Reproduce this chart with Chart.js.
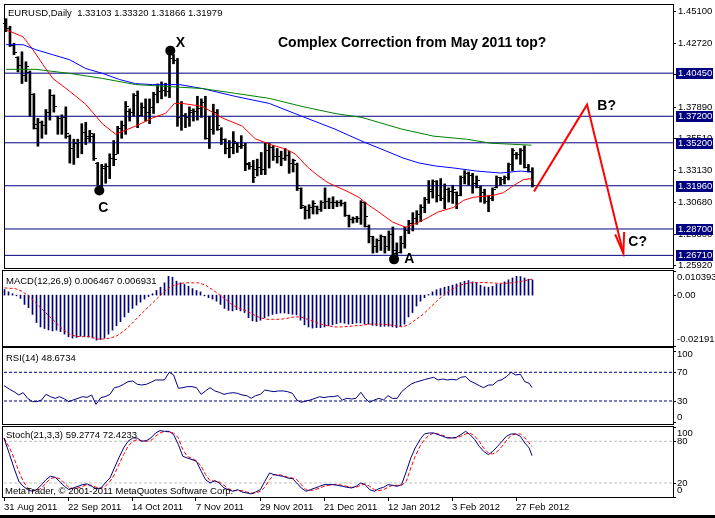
<!DOCTYPE html>
<html>
<head>
<meta charset="utf-8">
<title>EURUSD Daily</title>
<script src="https://cdn.jsdelivr.net/npm/chart.js@4.4.1/dist/chart.umd.min.js"></script>
<style>
  html, body { margin: 0; padding: 0; background: #fff; }
  #marco { position: relative; width: 715px; height: 518px; overflow: hidden; background: #fff; }
  #marco canvas { position: absolute; left: 0; top: 0; }
  #pie { position: absolute; left: 0; bottom: 0; width: 715px; height: 3px; background: #000; }
</style>
</head>
<body>
<div id="marco">
  <canvas id="precio" width="715" height="518"></canvas>
  <canvas id="macd" width="715" height="518"></canvas>
  <canvas id="rsi" width="715" height="518"></canvas>
  <canvas id="estoc" width="715" height="518"></canvas>
  <div id="pie"></div>
</div>
<script>
// ---------- datos ----------
const fechas = ['31 Aug 2011', '22 Sep 2011', '14 Oct 2011', '7 Nov 2011', '29 Nov 2011',
                '21 Dec 2011', '12 Jan 2012', '3 Feb 2012', '27 Feb 2012'];
const posFechas = [0, 16, 32, 48, 64, 80, 96, 112, 128];

const apertura = [
  1.4424, 1.4382, 1.4261, 1.4166, 1.4106, 1.4029, 1.4056, 1.3891, 1.3634, 1.3674,
  1.3654, 1.3751, 1.3881, 1.3721, 1.3704, 1.3714, 1.3574, 1.3477, 1.3517, 1.3527,
  1.3604, 1.3574, 1.3574, 1.3367, 1.3205, 1.3330, 1.3347, 1.3407, 1.3437, 1.3634,
  1.3654, 1.3761, 1.3751, 1.3881, 1.3731, 1.3791, 1.3751, 1.3791, 1.3891, 1.3909,
  1.3919, 1.3909, 1.4156, 1.4146, 1.3711, 1.3731, 1.3711, 1.3751, 1.3761, 1.3781,
  1.3831, 1.3557, 1.3624, 1.3751, 1.3624, 1.3547, 1.3477, 1.3487, 1.3517, 1.3497,
  1.3507, 1.3362, 1.3347, 1.3320, 1.3340, 1.3320, 1.3467, 1.3487, 1.3417, 1.3417,
  1.3407, 1.3427, 1.3367, 1.3357, 1.3180, 1.3033, 1.3013, 1.3033, 1.3043, 1.3023,
  1.3073, 1.3083, 1.3073, 1.3073, 1.3073, 1.3068, 1.2975, 1.2945, 1.2955, 1.2955,
  1.3073, 1.2895, 1.2815, 1.2745, 1.2785, 1.2815, 1.2745, 1.2835, 1.2688, 1.2698,
  1.2765, 1.2865, 1.2915, 1.2953, 1.2983, 1.3033, 1.3093, 1.3160, 1.3230, 1.3123,
  1.3103, 1.3170, 1.3160, 1.3150, 1.3130, 1.3260, 1.3290, 1.3280, 1.3220, 1.3190,
  1.3150, 1.3083, 1.3103, 1.3190, 1.3260, 1.3250, 1.3260, 1.3357, 1.3437, 1.3432,
  1.3467, 1.3340, 1.3310];
const maximo = [
  1.4456, 1.4399, 1.4270, 1.4169, 1.4206, 1.4131, 1.4061, 1.3891, 1.3704, 1.3684,
  1.3771, 1.3921, 1.3881, 1.3721, 1.3731, 1.3791, 1.3579, 1.3547, 1.3547, 1.3664,
  1.3674, 1.3614, 1.3589, 1.3372, 1.3357, 1.3362, 1.3437, 1.3537, 1.3644, 1.3684,
  1.3831, 1.3776, 1.3891, 1.3911, 1.3821, 1.3851, 1.3851, 1.3901, 1.3964, 1.3979,
  1.3969, 1.4247, 1.4186, 1.4156, 1.3831, 1.3741, 1.3791, 1.3776, 1.3871, 1.3851,
  1.3871, 1.3721, 1.3811, 1.3771, 1.3634, 1.3550, 1.3537, 1.3604, 1.3522, 1.3574,
  1.3517, 1.3372, 1.3387, 1.3397, 1.3447, 1.3517, 1.3517, 1.3497, 1.3477, 1.3457,
  1.3477, 1.3457, 1.3397, 1.3367, 1.3180, 1.3043, 1.3053, 1.3083, 1.3043, 1.3083,
  1.3180, 1.3103, 1.3113, 1.3083, 1.3088, 1.3073, 1.2975, 1.2960, 1.2965, 1.3083,
  1.3073, 1.2900, 1.2815, 1.2795, 1.2825, 1.2815, 1.2855, 1.2885, 1.2765, 1.2815,
  1.2885, 1.2935, 1.2993, 1.3008, 1.3053, 1.3108, 1.3235, 1.3240, 1.3235, 1.3250,
  1.3210, 1.3180, 1.3200, 1.3150, 1.3270, 1.3310, 1.3300, 1.3290, 1.3270, 1.3195,
  1.3170, 1.3120, 1.3180, 1.3270, 1.3260, 1.3270, 1.3367, 1.3477, 1.3447, 1.3477,
  1.3497, 1.3357, 1.3332];
const minimo = [
  1.4359, 1.4246, 1.4184, 1.4055, 1.3967, 1.3982, 1.3721, 1.3624, 1.3494, 1.3554,
  1.3584, 1.3691, 1.3751, 1.3584, 1.3584, 1.3554, 1.3367, 1.3357, 1.3407, 1.3437,
  1.3507, 1.3527, 1.3387, 1.3200, 1.3150, 1.3215, 1.3250, 1.3347, 1.3437, 1.3554,
  1.3584, 1.3684, 1.3721, 1.3634, 1.3721, 1.3684, 1.3664, 1.3741, 1.3821, 1.3851,
  1.3871, 1.3861, 1.4116, 1.3644, 1.3614, 1.3634, 1.3644, 1.3684, 1.3691, 1.3711,
  1.3547, 1.3477, 1.3584, 1.3614, 1.3507, 1.3437, 1.3407, 1.3437, 1.3447, 1.3477,
  1.3310, 1.3320, 1.3220, 1.3270, 1.3280, 1.3280, 1.3330, 1.3387, 1.3367, 1.3347,
  1.3387, 1.3290, 1.3300, 1.3160, 1.3023, 1.2945, 1.2950, 1.2983, 1.2983, 1.3003,
  1.3023, 1.3023, 1.3023, 1.3038, 1.3043, 1.2965, 1.2885, 1.2915, 1.2920, 1.2905,
  1.2885, 1.2765, 1.2688, 1.2693, 1.2708, 1.2688, 1.2708, 1.2624, 1.2658, 1.2688,
  1.2725, 1.2835, 1.2855, 1.2905, 1.2925, 1.2993, 1.3063, 1.3103, 1.3073, 1.3083,
  1.3023, 1.3073, 1.3063, 1.3023, 1.3120, 1.3210, 1.3200, 1.3140, 1.3180, 1.3073,
  1.3063, 1.3000, 1.3083, 1.3180, 1.3200, 1.3210, 1.3240, 1.3310, 1.3397, 1.3357,
  1.3330, 1.3300, 1.3187];
const cierre = [
  1.4382, 1.4261, 1.4206, 1.4106, 1.4029, 1.4096, 1.3891, 1.3664, 1.3674, 1.3654,
  1.3751, 1.3881, 1.3801, 1.3704, 1.3714, 1.3594, 1.3477, 1.3517, 1.3527, 1.3604,
  1.3557, 1.3594, 1.3407, 1.3205, 1.3347, 1.3347, 1.3407, 1.3397, 1.3634, 1.3654,
  1.3801, 1.3751, 1.3881, 1.3731, 1.3791, 1.3751, 1.3791, 1.3891, 1.3909, 1.3919,
  1.3909, 1.4196, 1.4146, 1.3711, 1.3731, 1.3711, 1.3771, 1.3761, 1.3781, 1.3831,
  1.3557, 1.3624, 1.3751, 1.3654, 1.3547, 1.3477, 1.3487, 1.3537, 1.3497, 1.3507,
  1.3367, 1.3347, 1.3260, 1.3340, 1.3320, 1.3467, 1.3487, 1.3417, 1.3417, 1.3407,
  1.3427, 1.3367, 1.3387, 1.3200, 1.3053, 1.3013, 1.3033, 1.3063, 1.3023, 1.3073,
  1.3083, 1.3073, 1.3073, 1.3073, 1.3068, 1.2975, 1.2945, 1.2955, 1.2955, 1.3073,
  1.2965, 1.2815, 1.2745, 1.2785, 1.2815, 1.2745, 1.2835, 1.2708, 1.2698, 1.2765,
  1.2865, 1.2915, 1.2953, 1.2983, 1.3033, 1.3093, 1.3170, 1.3230, 1.3123, 1.3103,
  1.3170, 1.3160, 1.3170, 1.3130, 1.3260, 1.3290, 1.3280, 1.3220, 1.3240, 1.3150,
  1.3083, 1.3103, 1.3170, 1.3260, 1.3250, 1.3260, 1.3357, 1.3467, 1.3432, 1.3467,
  1.3340, 1.3310, 1.3198];

// medias moviles leidas a intervalos
const mediaRojaX = [0, 4.25, 6.75, 9.25, 11.75, 16, 20, 24.25, 27.5, 32.5, 36.75, 40, 42.25, 44.25, 49.25,
  54.25, 59.25, 62.5, 66.5, 70, 72.5, 75.75, 78.25, 80.75, 85.25, 88.5, 91, 93.5, 97, 100.25,
  103.5, 106, 108.25, 112.25, 114.75, 117.25, 122.25, 124.75, 127.25, 129.75, 131.5, 132];
const mediaRojaY = [1.4372, 1.4320, 1.4222, 1.4110, 1.4005, 1.3908, 1.3810, 1.3661, 1.3585, 1.3646, 1.3707,
  1.3742, 1.3817, 1.3817, 1.3794, 1.3707, 1.3646, 1.3550, 1.3505, 1.3474, 1.3436, 1.3333, 1.3272,
  1.3219, 1.3158, 1.3108, 1.3048, 1.2997, 1.2921, 1.2883, 1.2921, 1.2959, 1.2997, 1.3033, 1.3086,
  1.3109, 1.3124, 1.3144, 1.3197, 1.3242, 1.3250, 1.3220];
const mediaAzulX = [0, 4.25, 7.5, 11.75, 16, 20, 24.25, 28.5, 32.5, 36.75, 43.5, 49.25, 57.5, 66, 74.25,
  82.5, 89.25, 95.25, 99.5, 103.5, 107.75, 112.25, 118, 124, 129, 131.75];
const mediaAzulY = [1.4260, 1.4260, 1.4222, 1.4184, 1.4146, 1.4080, 1.4043, 1.3997, 1.3966, 1.3959, 1.3959,
  1.3929, 1.3870, 1.3817, 1.3719, 1.3623, 1.3532, 1.3459, 1.3406, 1.3368, 1.3345, 1.3330, 1.3307,
  1.3292, 1.3307, 1.3299];
const mediaVerdeX = [0, 7.5, 16, 24.25, 32.5, 41, 49.25, 57.5, 66, 74.25, 82.5, 89.25, 99.25, 107.25,
  115.5, 121.5, 131.75];
const mediaVerdeY = [1.4074, 1.4074, 1.4043, 1.4005, 1.3959, 1.3944, 1.3929, 1.3893, 1.3855, 1.3794, 1.3741,
  1.3711, 1.3623, 1.3570, 1.3547, 1.3517, 1.3502];

const nivelesPrecio = [1.4045, 1.3720, 1.3520, 1.3196, 1.2870, 1.2671];
const ticksPrecio = [1.4510, 1.4272, 1.4034, 1.3789, 1.3551, 1.3313, 1.3068, 1.2830, 1.2592];

// marcas de la onda
const puntosX = [41.2, 23.4, 97.3];
const puntosY = [1.4215, 1.3160, 1.2641];
const letras = ['X', 'C', 'A', 'B?', 'C?'];
const letrasX = [43.75, 24.4, 101.1, 150.6, 158.4];
const letrasY = [1.4271, 1.3029, 1.2639, 1.3800, 1.2774];
const zigzagX = [132.4, 145.7, 154.8];
const zigzagY = [1.3152, 1.3808, 1.2686];
const flechaX = [152.75, 154.8, 155.0];
const flechaY = [1.2830, 1.2686, 1.2847];

// MACD(12,26,9)
const macdHist = [
  0.0024, 0.0014, 0.0006, -0.0003, -0.0014, -0.0040, -0.0054, -0.0083, -0.0118, -0.0137,
  -0.0144, -0.0150, -0.0154, -0.0151, -0.0157, -0.0168, -0.0179, -0.0185, -0.0182, -0.0177,
  -0.0179, -0.0181, -0.0185, -0.0194, -0.0191, -0.0185, -0.0168, -0.0151, -0.0132, -0.0114,
  -0.0094, -0.0075, -0.0057, -0.0043, -0.0030, -0.0017, -0.0006, 0.0006, 0.0020, 0.0034,
  0.0053, 0.0081, 0.0077, 0.0060, 0.0053, 0.0046, 0.0038, 0.0028, 0.0020, 0.0014,
  -0.0003, -0.0011, -0.0017, -0.0026, -0.0040, -0.0057, -0.0066, -0.0068, -0.0063, -0.0068,
  -0.0075, -0.0097, -0.0111, -0.0114, -0.0108, -0.0097, -0.0090, -0.0083, -0.0080, -0.0077,
  -0.0077, -0.0080, -0.0083, -0.0085, -0.0108, -0.0128, -0.0137, -0.0142, -0.0140, -0.0140,
  -0.0137, -0.0132, -0.0128, -0.0123, -0.0118, -0.0121, -0.0125, -0.0123, -0.0120, -0.0120,
  -0.0125, -0.0125, -0.0130, -0.0132, -0.0135, -0.0134, -0.0134, -0.0137, -0.0140, -0.0135,
  -0.0125, -0.0094, -0.0075, -0.0047, -0.0026, -0.0011, 0.0003, 0.0014, 0.0023, 0.0028,
  0.0034, 0.0038, 0.0043, 0.0048, 0.0054, 0.0060, 0.0063, 0.0057, 0.0053, 0.0043,
  0.0036, 0.0034, 0.0038, 0.0046, 0.0048, 0.0057, 0.0066, 0.0074, 0.0081, 0.0080,
  0.0074, 0.0068, 0.0065];
const senalX = [0, 2.65, 4.35, 6.05, 7.75, 9.45, 11.15, 12.85, 14.55, 16.25, 17.95, 19.65, 21.35, 23.05,
  24.75, 26.45, 28.15, 29.85, 31.55, 33.25, 34.95, 36.65, 38.35, 40.05, 41.75, 43.45, 45.15, 46.85,
  48.55, 50.25, 51.95, 53.65, 55.35, 57.05, 58.75, 60.45, 62.15, 63.85, 65.55, 67.25, 68.95, 70.65,
  72.35, 74.05, 75.75, 77.45, 79.15, 80.85, 82.55, 84.25, 85.95, 87.65, 89.35, 91.05, 92.75, 94.45,
  96.15, 97.85, 99.55, 101.25, 102.95, 104.65, 106.35, 108.05, 109.75, 111.45, 113.15, 114.85,
  116.55, 118.25, 119.95, 121.65, 123.35, 125.05, 126.75, 128.45, 130.15, 132];
const senalY = [0.0031, 0.0028, 0.0017, -0.0004, -0.0033, -0.0061, -0.0090, -0.0118, -0.0147, -0.0168,
  -0.0178, -0.0179, -0.0178, -0.0189, -0.0189, -0.0185, -0.0175, -0.0154, -0.0128, -0.0097, -0.0068,
  -0.0040, -0.0011, 0.0017, 0.0038, 0.0048, 0.0053, 0.0053, 0.0053, 0.0043, 0.0024, 0.0003, -0.0019,
  -0.0043, -0.0057, -0.0068, -0.0083, -0.0097, -0.0104, -0.0104, -0.0104, -0.0100, -0.0094, -0.0094,
  -0.0104, -0.0114, -0.0125, -0.0132, -0.0137, -0.0137, -0.0135, -0.0132, -0.0130, -0.0125, -0.0125,
  -0.0125, -0.0128, -0.0132, -0.0137, -0.0125, -0.0104, -0.0083, -0.0054, -0.0026, 0.0000, 0.0020,
  0.0038, 0.0048, 0.0053, 0.0054, 0.0054, 0.0053, 0.0051, 0.0051, 0.0053, 0.0057, 0.0063, 0.0069];
const macdEje = [0.010393, 0, -0.02191];
const macdEtiquetas = ['0.010393', '0.00', '-0.02191'];

const posOsc = [
  0, 1.4, 2.5, 3.7, 4.8, 5.9, 7.1, 8.2, 9.4, 10.5,
  11.6, 12.8, 13.9, 15.1, 16.2, 17.3, 18.5, 19.6, 20.8, 21.9,
  23.0, 24.2, 25.3, 26.5, 27.6, 28.7, 29.9, 31.0, 32.2, 33.3,
  34.4, 35.6, 36.7, 37.9, 39.0, 40.1, 41.3, 42.4, 43.6, 44.7,
  45.8, 47.0, 48.1, 49.3, 50.4, 51.5, 52.7, 53.8, 55.0, 56.1,
  57.2, 58.4, 59.5, 60.7, 61.8, 62.9, 64.1, 65.2, 66.4, 67.5,
  68.6, 69.8, 70.9, 72.1, 73.2, 74.3, 75.5, 76.6, 77.8, 78.9,
  80.0, 81.2, 82.3, 83.5, 84.6, 85.7, 86.9, 88.0, 89.2, 90.3,
  91.4, 92.6, 93.7, 94.9, 96.0, 97.1, 98.3, 99.4, 100.6, 101.7,
  102.8, 104.0, 105.1, 106.3, 107.4, 108.5, 109.7, 110.8, 112.0, 113.1,
  114.2, 115.4, 116.5, 117.7, 118.8, 119.9, 121.1, 122.2, 123.4, 124.5,
  125.6, 126.8, 127.9, 129.1, 130.2, 131.3, 132];
const rsiValores = [
  51.4, 46.3, 43.0, 38.4, 41.6, 33.7, 29.1, 29.1, 31.4, 39.3,
  36.0, 33.7, 36.0, 32.8, 29.1, 31.4, 33.7, 36.0, 35.1, 38.4,
  25.3, 34.7, 36.0, 39.3, 48.6, 50.0, 53.3, 57.0, 57.9, 53.3,
  52.3, 53.3, 56.0, 59.3, 59.3, 59.3, 70.0, 66.3, 47.7, 48.6,
  50.0, 50.0, 48.6, 39.3, 44.0, 48.6, 44.0, 42.1, 39.3, 40.7,
  41.6, 40.7, 38.4, 37.4, 33.7, 37.4, 39.3, 45.3, 44.0, 43.0,
  44.0, 44.0, 43.0, 40.7, 31.4, 28.1, 30.0, 31.4, 33.7, 36.0,
  34.7, 36.0, 36.0, 37.4, 31.4, 33.7, 32.8, 33.7, 42.1, 33.7,
  28.1, 31.4, 33.7, 31.4, 37.4, 33.7, 33.7, 43.0, 48.6, 53.3,
  56.0, 57.9, 59.8, 61.6, 63.0, 59.3, 60.7, 59.3, 60.2, 59.3,
  63.0, 64.0, 57.9, 54.7, 51.4, 48.6, 52.3, 52.3, 57.9, 59.8,
  64.0, 70.0, 66.3, 67.2, 57.0, 54.7, 48.7];
const rsiNiveles = [70, 30];
const rsiEje = [100, 70, 30, 0];

const stochPrincipal = [
  84.8, 60.8, 41.6, 22.4, 15.2, 10.4, 8.0, 10.4, 17.6, 24.8,
  29.6, 28.2, 22.4, 15.2, 10.4, 12.8, 15.2, 17.6, 18.6, 15.2,
  11.8, 12.8, 20.0, 27.2, 41.6, 56.0, 70.4, 80.0, 84.8, 84.8,
  80.0, 81.0, 84.8, 92.0, 95.4, 94.4, 94.4, 89.6, 75.2, 58.4,
  56.0, 53.6, 51.2, 36.8, 24.8, 20.0, 23.4, 20.0, 12.8, 10.4,
  8.0, 10.4, 7.0, 5.6, 4.2, 7.0, 10.4, 22.4, 34.4, 32.0,
  30.6, 29.6, 27.2, 26.2, 20.0, 12.8, 8.0, 10.4, 12.8, 15.2,
  17.6, 17.6, 17.6, 16.6, 15.2, 13.8, 12.8, 15.2, 20.0, 17.6,
  10.4, 8.0, 11.8, 13.8, 17.6, 16.6, 15.2, 17.6, 36.8, 56.0,
  70.4, 82.4, 90.6, 92.0, 92.0, 89.6, 87.2, 84.8, 84.8, 85.8,
  89.6, 94.4, 89.6, 82.4, 72.8, 65.6, 60.8, 65.6, 72.8, 80.0,
  87.2, 90.6, 90.6, 87.2, 77.6, 70.4, 59.3];
const stochSenal = [
  84.8, 70.4, 56.0, 36.8, 22.4, 12.8, 9.0, 9.0, 12.8, 20.0,
  26.2, 28.2, 26.2, 20.0, 13.8, 11.8, 12.8, 15.2, 17.6, 16.6,
  13.8, 11.8, 15.2, 22.4, 32.0, 46.4, 60.8, 72.8, 80.0, 82.4,
  81.0, 80.0, 81.0, 87.2, 92.0, 94.4, 93.4, 92.0, 84.8, 68.0,
  58.4, 55.0, 52.2, 44.0, 32.0, 23.4, 22.4, 21.4, 16.6, 11.8,
  9.0, 9.0, 9.0, 7.0, 5.6, 5.6, 8.0, 13.8, 24.8, 32.0,
  32.0, 30.6, 28.2, 27.2, 24.8, 17.6, 10.4, 9.0, 10.4, 12.8,
  15.2, 16.6, 17.6, 17.6, 16.6, 15.2, 13.8, 13.8, 16.6, 18.6,
  15.2, 10.4, 9.0, 10.4, 13.8, 16.6, 16.6, 16.6, 22.4, 41.6,
  58.4, 72.8, 82.4, 88.6, 92.0, 90.6, 88.6, 85.8, 84.8, 84.8,
  87.2, 90.6, 92.0, 87.2, 80.0, 70.4, 63.2, 61.8, 65.6, 72.8,
  81.0, 88.6, 90.6, 90.6, 84.8, 77.6, 72.4];
const stochNiveles = [80, 20];
const stochEje = [100, 80, 20, 0];

// ---------- configuracion ----------
const X_MIN = -0.25, X_MAX = 167.25;
const FUENTE = "9.5px 'Liberation Sans', Arial, sans-serif";
const FUENTE_GRANDE = "bold 14px 'Liberation Sans', Arial, sans-serif";

Chart.defaults.font.family = "'Liberation Sans', Arial, sans-serif";
Chart.defaults.font.size = 9.5;
Chart.defaults.color = '#000';
Chart.defaults.animation = false;
Chart.defaults.responsive = false;
Chart.defaults.maintainAspectRatio = false;
Chart.defaults.devicePixelRatio = 1;
Chart.defaults.plugins.legend.display = false;
Chart.defaults.plugins.tooltip.enabled = false;
Chart.defaults.elements.point.radius = 0;
Chart.defaults.elements.line.tension = 0;

function pares(xs, ys) {
  const n = Math.min(xs.length, ys.length);
  const out = [];
  for (let k = 0; k < n; k++) out.push({x: xs[k], y: ys[k]});
  return out;
}
function lineaNivel(v, color, dash) {
  return {type: 'line', data: [{x: X_MIN - 1, y: v}, {x: X_MAX + 1, y: v}], borderColor: color,
          borderWidth: 1, borderDash: dash || [], order: 5};
}
// desplazamiento: medio pixel para que las barras de 1px queden nitidas
function ejeX(visible, desplazamiento) {
  const d = desplazamiento || 0;
  const eje = {
    type: 'linear', min: X_MIN - d, max: X_MAX - d, offset: false, display: visible,
    grid: {display: visible, drawOnChartArea: false, drawTicks: true, tickLength: 4, color: '#000'},
    border: {display: false},
    ticks: {autoSkip: false, maxRotation: 0, minRotation: 0, align: 'start', padding: 1,
            color: '#000', callback: (v, i) => fechas[i]},
    afterBuildTicks: s => { s.ticks = posFechas.map(v => ({value: v})); }
  };
  if (visible) eje.afterFit = s => { s.height = 21; s.paddingLeft = 0; s.paddingRight = 0; };
  return eje;
}

// marco negro de cada panel
Chart.register({
  id: 'marcoPanel',
  afterDraw(chart) {
    const {ctx, chartArea: a} = chart;
    ctx.save();
    ctx.strokeStyle = '#000';
    ctx.lineWidth = 1;
    ctx.strokeRect(a.left - 0.5, a.top - 0.5, a.width + 1, a.height + 1);
    ctx.restore();
  }
});

// etiquetas de la escala derecha en los subpaneles (MT4 las recorta dentro del panel)
Chart.register({
  id: 'ejeDerecho',
  afterDraw(chart, args, opts) {
    if (!opts || !opts.valores) return;
    const {ctx, chartArea: a} = chart;
    const y = chart.scales.y;
    ctx.save();
    ctx.font = FUENTE;
    ctx.fillStyle = '#000';
    ctx.textBaseline = 'middle';
    opts.valores.forEach((v, k) => {
      const py = y.getPixelForValue(v);
      ctx.fillRect(a.right, Math.round(py), 3, 1);
      const ty = Math.min(Math.max(py, a.top + 6.5), a.bottom - 6.5);
      ctx.fillText(opts.textos[k], a.right + 4, ty);
    });
    ctx.restore();
  }
});

// rotulo del indicador arriba a la izquierda
Chart.register({
  id: 'rotulo',
  afterDraw(chart, args, opts) {
    if (!opts || !opts.texto) return;
    const {ctx, chartArea: a} = chart;
    ctx.save();
    ctx.font = FUENTE;
    ctx.fillStyle = '#000';
    ctx.textBaseline = 'middle';
    ctx.fillText(opts.texto, a.left + 3, a.top + opts.dy);
    if (opts.pie) ctx.fillText(opts.pie, a.left + 2, a.bottom - 6);
    ctx.restore();
  }
});

// ---------- panel de precio ----------
const principal = {
  id: 'principal',
  afterDatasetsDraw(chart) {
    const {ctx} = chart;
    const xs = chart.scales.x, ys = chart.scales.y;
    ctx.save();
    ctx.fillStyle = '#000';
    for (let i = 0; i < apertura.length; i++) {
      const c = Math.round(xs.getPixelForValue(i));
      ctx.fillRect(c - 3, Math.round(ys.getPixelForValue(apertura[i])), 2, 1);
      ctx.fillRect(c + 1, Math.round(ys.getPixelForValue(cierre[i])), 2, 1);
    }
    ctx.restore();
  },
  afterDraw(chart) {
    const {ctx, chartArea: a} = chart;
    const xs = chart.scales.x, ys = chart.scales.y;
    ctx.save();
    ctx.font = FUENTE;
    ctx.textBaseline = 'middle';
    nivelesPrecio.forEach(p => {
      const py = Math.round(ys.getPixelForValue(p));
      ctx.fillStyle = '#000080';
      ctx.fillRect(a.right + 3, py - 5, 37, 11);
      ctx.fillStyle = '#fff';
      ctx.fillText(p.toFixed(5), a.right + 5, py + 0.5);
    });
    ctx.fillStyle = '#000';
    ctx.fillText('EURUSD,Daily  1.33103 1.33320 1.31866 1.31979', a.left + 3, a.top + 8);
    ctx.font = FUENTE_GRANDE;
    ctx.textAlign = 'center';
    letras.forEach((t, k) => {
      ctx.fillText(t, xs.getPixelForValue(letrasX[k]), ys.getPixelForValue(letrasY[k]));
    });
    ctx.textAlign = 'left';
    ctx.fillText('Complex Correction from May 2011 top?', 278, 43);
    ctx.restore();
  }
};

new Chart(document.getElementById('precio'), {
  type: 'bar',
  data: {
    datasets: [
      {type: 'bar', data: maximo.map((h, i) => ({x: i, y: [minimo[i], h]})),
       backgroundColor: '#000', borderWidth: 0, barThickness: 2, order: 6},
      ...nivelesPrecio.map(p => lineaNivel(p, '#000080')),
      {type: 'line', data: pares(mediaVerdeX, mediaVerdeY), borderColor: '#008000', borderWidth: 1, order: 3},
      {type: 'line', data: pares(mediaAzulX, mediaAzulY), borderColor: '#0000ff', borderWidth: 1, order: 3},
      {type: 'line', data: pares(mediaRojaX, mediaRojaY), borderColor: '#ff0000', borderWidth: 1, order: 3},
      {type: 'line', data: pares(zigzagX, zigzagY), borderColor: '#ff0000', borderWidth: 2, order: 1},
      {type: 'line', data: pares(flechaX, flechaY), borderColor: '#ff0000', borderWidth: 2, order: 1},
      {type: 'scatter', data: pares(puntosX, puntosY), pointRadius: 5, pointBackgroundColor: '#000',
       pointBorderWidth: 0, order: 0}
    ]
  },
  options: {
    layout: {padding: {left: 3, top: 3, right: 0, bottom: 250}},
    scales: {
      x: ejeX(false),
      y: {
        type: 'linear', position: 'right', min: 1.25757, max: 1.45592,
        grid: {drawOnChartArea: false, drawTicks: true, tickLength: 3, color: '#000'},
        border: {display: false},
        ticks: {padding: 2, color: '#000', autoSkip: false, callback: v => v.toFixed(5)},
        afterBuildTicks: s => { s.ticks = ticksPrecio.map(v => ({value: v})); },
        afterFit: s => { s.width = 42; s.paddingTop = 0; s.paddingBottom = 0; }
      }
    }
  },
  plugins: [principal]
});

// ---------- MACD ----------
new Chart(document.getElementById('macd'), {
  type: 'bar',
  data: {
    datasets: [
      {type: 'bar', data: macdHist.map((v, i) => ({x: i, y: v})), backgroundColor: '#000080',
       borderWidth: 0, barThickness: 1, order: 2},
      {type: 'line', data: pares(senalX, senalY), borderColor: '#ff0000', borderWidth: 1,
       borderDash: [3, 2], order: 1}
    ]
  },
  options: {
    layout: {padding: {left: 3, top: 271, right: 42, bottom: 172}},
    scales: {x: ejeX(false, 0.125), y: {display: false, min: -0.02191, max: 0.010393}},
    plugins: {
      ejeDerecho: {valores: macdEje, textos: macdEtiquetas},
      rotulo: {texto: 'MACD(12,26,9) 0.006467 0.006931', dy: 10}
    }
  }
});

// ---------- RSI ----------
new Chart(document.getElementById('rsi'), {
  type: 'line',
  data: {
    datasets: [
      ...rsiNiveles.map(v => lineaNivel(v, '#000080', [3, 2])),
      {data: pares(posOsc, rsiValores), borderColor: '#000080', borderWidth: 1, order: 1}
    ]
  },
  options: {
    layout: {padding: {left: 3, top: 348, right: 42, bottom: 94}},
    scales: {x: ejeX(false), y: {display: false, min: -2.1, max: 103.9}},
    plugins: {
      ejeDerecho: {valores: rsiEje, textos: rsiEje.map(String)},
      rotulo: {texto: 'RSI(14) 48.6734', dy: 10.5}
    }
  }
});

// ---------- Stochastic ----------
new Chart(document.getElementById('estoc'), {
  type: 'line',
  data: {
    datasets: [
      ...stochNiveles.map(v => lineaNivel(v, '#c0c0c0', [3, 2])),
      {data: pares(posOsc, stochSenal), borderColor: '#ff0000', borderWidth: 1, borderDash: [4, 2], order: 2},
      {data: pares(posOsc, stochPrincipal), borderColor: '#000080', borderWidth: 1, order: 1}
    ]
  },
  options: {
    layout: {padding: {left: 3, top: 427, right: 42, bottom: 0}},
    scales: {x: ejeX(true), y: {display: false, min: -0.2, max: 100.6}},
    plugins: {
      ejeDerecho: {valores: stochEje, textos: stochEje.map(String)},
      rotulo: {texto: 'Stoch(21,3,3) 59.2774 72.4233', dy: 8,
               pie: 'MetaTrader, \u00a9 2001-2011 MetaQuotes Software Corp.'}
    }
  }
});
</script>
</body>
</html>
